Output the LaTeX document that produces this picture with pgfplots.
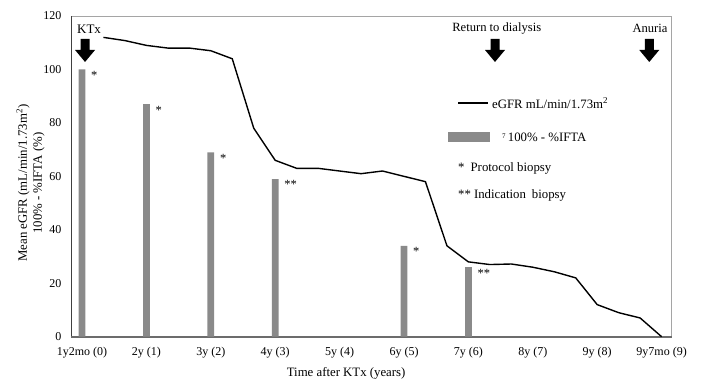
\documentclass[border=0pt]{standalone}
\usepackage{pgfplots}
\pgfplotsset{compat=1.18}
\usepackage{fontspec}
\setmainfont{Liberation Serif}
\definecolor{bargray}{RGB}{138,138,138}
\definecolor{framegray}{RGB}{165,165,165}
\begin{document}
\begin{tikzpicture}
\path[use as bounding box] (-71pt,-54.3pt) rectangle (630pt,336.7pt);
\begin{axis}[
  at={(0,0)}, anchor=south west,
  scale only axis,
  width=600.7pt, height=320.7pt,
  xmin=-0.171, xmax=9.157,
  ymin=0, ymax=120,
  clip=false,
  axis line style={draw=framegray, line width=0.9pt},
  major tick length=0pt,
  xtick={0,1,2,3,4,5,6,7,8,9},
  xticklabels={1y2mo (0),2y (1),3y (2),4y (3),5y (4),6y (5),7y (6),8y (7),9y (8),9y7mo (9)},
  ytick={0,20,40,60,80,100,120},
  /pgf/number format/assume math mode=true,
  tick label style={font=\fontsize{12}{14}\selectfont},
  xticklabel style={anchor=center, yshift=-15.6pt},
  yticklabel style={anchor=east, inner sep=0pt, xshift=-9.5pt},
  xlabel={Time after KTx (years)},
  xlabel style={at={(axis description cs:0.458,0)}, anchor=center, yshift=-37pt, font=\fontsize{12.8}{15}\selectfont},
  ylabel={Mean eGFR (mL/min/1.73m\textsuperscript{2})\\100\% - \%IFTA (\%)},
  ylabel style={at={(axis description cs:-0.0674,0.479)}, anchor=center, align=center, font=\fontsize{12.8}{15}\selectfont},
]
% frame accents
\draw[black!75, line width=0.8pt] (rel axis cs:0,0) -- (rel axis cs:0,1);
\draw[gray!85!black, line width=1.6pt] (rel axis cs:0,0) -- (rel axis cs:1,0);

% bars: 100% - %IFTA
\addplot[ybar, bar width=6.7pt, fill=bargray, draw=none,
  point meta=explicit symbolic,
  nodes near coords,
  every node near coord/.append style={anchor=north west, inner sep=0pt, xshift=9pt, yshift=-1.5pt, font=\fontsize{12.5}{14}\selectfont, text=black}]
coordinates {(0,100) [*] (1,87) [*] (2,69) [*] (3,59) [**] (5,34) [*] (6,26) [**]};

% eGFR line
\addplot[black, line width=1.4pt, mark=none] coordinates {
(0.333,112) (0.667,110.8) (1,109) (1.333,108) (1.667,108) (2,107) (2.333,104)
(2.667,78) (3,66) (3.333,63) (3.667,63) (4,62) (4.333,61) (4.667,62) (5,60)
(5.333,58) (5.667,34) (6,28) (6.333,27) (6.667,27.2) (7,26) (7.333,24.3)
(7.667,22) (8,12) (8.333,9) (8.667,7) (9,0)};

% event arrows
\fill[black] (axis cs:0.047,111.4) ++(-4.5pt,0pt) -- ++(9pt,0pt) -- ++(0pt,-11pt) -- ++(5.5pt,0pt)
   -- ++(-10pt,-12pt) -- ++(-10pt,12pt) -- ++(5.5pt,0pt) -- cycle;
\fill[black] (axis cs:6.413,111.4) ++(-4.5pt,0pt) -- ++(9pt,0pt) -- ++(0pt,-11pt) -- ++(5.5pt,0pt)
   -- ++(-10pt,-12pt) -- ++(-10pt,12pt) -- ++(5.5pt,0pt) -- cycle;
\fill[black] (axis cs:8.809,111.4) ++(-4.5pt,0pt) -- ++(9pt,0pt) -- ++(0pt,-11pt) -- ++(5.5pt,0pt)
   -- ++(-10pt,-12pt) -- ++(-10pt,12pt) -- ++(5.5pt,0pt) -- cycle;
\node[font=\fontsize{13}{15}\selectfont] at (axis cs:0.109,115.1) {KTx};
\node[font=\fontsize{12.6}{15}\selectfont] at (axis cs:6.44,115.4) {Return to dialysis};
\node[font=\fontsize{12.6}{15}\selectfont] at (axis cs:8.82,115.4) {Anuria};

% legend
\draw[black, line width=1.4pt] (axis cs:5.839,87.4) -- (axis cs:6.304,87.4);
\node[anchor=west, inner sep=0pt, font=\fontsize{12.8}{15}\selectfont] at (axis cs:6.366,87.4) {eGFR mL/min/1.73m\textsuperscript{2}};
\fill[bargray] (axis cs:5.683,72.9) rectangle (axis cs:6.335,76.6);
\node[anchor=west, inner sep=0pt, font=\fontsize{12.8}{15}\selectfont] at (axis cs:6.522,74.7) {\raisebox{0.5ex}{\fontsize{7}{8}\selectfont 7}\,100\% - \%IFTA};
\node[anchor=west, inner sep=0pt, font=\fontsize{12.8}{15}\selectfont] at (axis cs:5.839,63.1) {*\hspace{6pt}Protocol biopsy};
\node[anchor=west, inner sep=0pt, font=\fontsize{12.8}{15}\selectfont] at (axis cs:5.839,53.0) {**\hspace{3pt}Indication\hspace{6pt}biopsy};
\end{axis}
\end{tikzpicture}
\end{document}
